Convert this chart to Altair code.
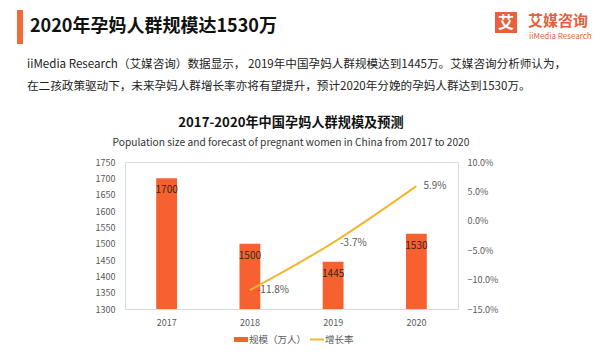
import altair as alt
import pandas as pd

# ---- data ----
years = ["2017", "2018", "2019", "2020"]
scale_values = [1700, 1500, 1445, 1530]
rate_years = ["2018", "2019", "2020"]
rate_values = [-0.118, -0.037, 0.059]

FONT = "Noto Sans CJK SC"
BAR_COLOR = "#F7612F"
LINE_COLOR = "#F5B52E"
TEXT_GREY = "#595959"

bars_df = pd.DataFrame({"year": years, "value": scale_values})
rate_df = pd.DataFrame({"year": rate_years, "rate": rate_values})
rate_df["label"] = [f"{v*100:.1f}%" for v in rate_values]

xenc = alt.X(
    "year:N",
    sort=years,
    title=None,
    scale=alt.Scale(paddingInner=0.75, paddingOuter=0.375),
    axis=alt.Axis(
        labelAngle=0, ticks=False, domainColor="#D9D9D9", labelPadding=9,
        labelFontSize=9, labelColor=TEXT_GREY, labelFont=FONT, grid=False,
    ),
)

yleft = alt.Y(
    "value:Q",
    title=None,
    scale=alt.Scale(domain=[1300, 1750], nice=False, zero=False),
    axis=alt.Axis(
        values=list(range(1300, 1751, 50)), format="d", labelOverlap=False,
        grid=False, domain=False, ticks=False,
        labelPadding=10, labelFontSize=9, labelColor=TEXT_GREY, labelFont=FONT,
    ),
)

yright = alt.Y(
    "rate:Q",
    title=None,
    scale=alt.Scale(domain=[-0.15, 0.10], nice=False, zero=False),
    axis=alt.Axis(
        orient="right", format=".1%", values=[-0.15, -0.10, -0.05, 0.0, 0.05, 0.10],
        labelOverlap=False, grid=False, domain=False, ticks=False, labelPadding=9,
        labelFontSize=9, labelColor=TEXT_GREY, labelFont=FONT,
    ),
)

bars = alt.Chart(bars_df).mark_bar(color=BAR_COLOR, clip=True).encode(x=xenc, y=yleft)
bar_labels = alt.Chart(bars_df).mark_text(
    dy=12, fontSize=10, font=FONT, color="#3a2418", baseline="middle"
).encode(x=xenc, y=yleft, text=alt.Text("value:Q"))
bar_layer = alt.layer(bars, bar_labels)

line = alt.Chart(rate_df).mark_line(
    color=LINE_COLOR, strokeWidth=2, interpolate="monotone"
).encode(x=xenc, y=yright)
line_labels = alt.Chart(rate_df).mark_text(
    align="left", baseline="middle", dx=7, fontSize=10, font=FONT, color=TEXT_GREY
).encode(x=xenc, y=yright, text="label:N")
line_layer = alt.layer(line, line_labels)

# ---- decorations (positions relative to plot origin at page (125,162)) ----
OX, OY = 125, 162
one = pd.DataFrame({"k": [0]})


def txt(s, px, py, size, color="#222222", weight="normal", align="left"):
    return alt.Chart(one).mark_text(
        text=s, fontSize=size, font=FONT, color=color, fontWeight=weight,
        align=align, baseline="middle",
    ).encode(x=alt.value(px - OX), y=alt.value(py - OY))


def rect(x1, y1, x2, y2, color):
    return alt.Chart(one).mark_rect(color=color).encode(
        x=alt.value(x1 - OX), x2=alt.value(x2 - OX),
        y=alt.value(y1 - OY), y2=alt.value(y2 - OY),
    )


decor = [
    rect(17, 10, 23, 44, "#F26A35"),
    txt("2020年孕妈人群规模达1530万", 30, 27, 18, "#111111", "bold"),
    rect(495, 12, 517, 33, "#E9603A"),
    txt("艾", 506, 22.5, 16, "#FFFFFF", "bold", "center"),
    txt("艾媒咨询", 528, 21, 15, "#E5603A", "bold"),
    txt("iiMedia Research", 529, 37, 8, "#E5603A"),
    txt("iiMedia Research（艾媒咨询）数据显示， 2019年中国孕妈人群规模达到1445万。艾媒咨询分析师认为，",
        27, 64.5, 11.6, "#222222"),
    txt("在二孩政策驱动下，未来孕妈人群增长率亦将有望提升，预计2020年分娩的孕妈人群达到1530万。",
        27, 87, 11.6, "#222222"),
    txt("2017-2020年中国孕妈人群规模及预测", 291, 123, 13.2, "#111111", "bold", "center"),
    txt("Population size and forecast of pregnant  women in China from 2017 to 2020",
        291, 143, 10.2, "#333333", "normal", "center"),
    rect(234, 337, 248, 342, BAR_COLOR),
    txt("规模（万人）", 249, 339.5, 9.5, TEXT_GREY),
    alt.Chart(one).mark_rule(color=LINE_COLOR, strokeWidth=2).encode(
        x=alt.value(310 - OX), x2=alt.value(324 - OX), y=alt.value(339.5 - OY)
    ),
    txt("增长率", 325, 339.5, 9.5, TEXT_GREY),
]

chart = alt.layer(bar_layer, line_layer, *decor).resolve_scale(y="independent").properties(
    width=333,
    height=147,
    autosize=alt.AutoSizeParams(type="none"),
    padding={"left": 117, "top": 154, "right": 134, "bottom": 43},
).configure_view(stroke=None).configure(background="white")

chart.save("out.html", embed_options={"renderer": "svg", "actions": False})
